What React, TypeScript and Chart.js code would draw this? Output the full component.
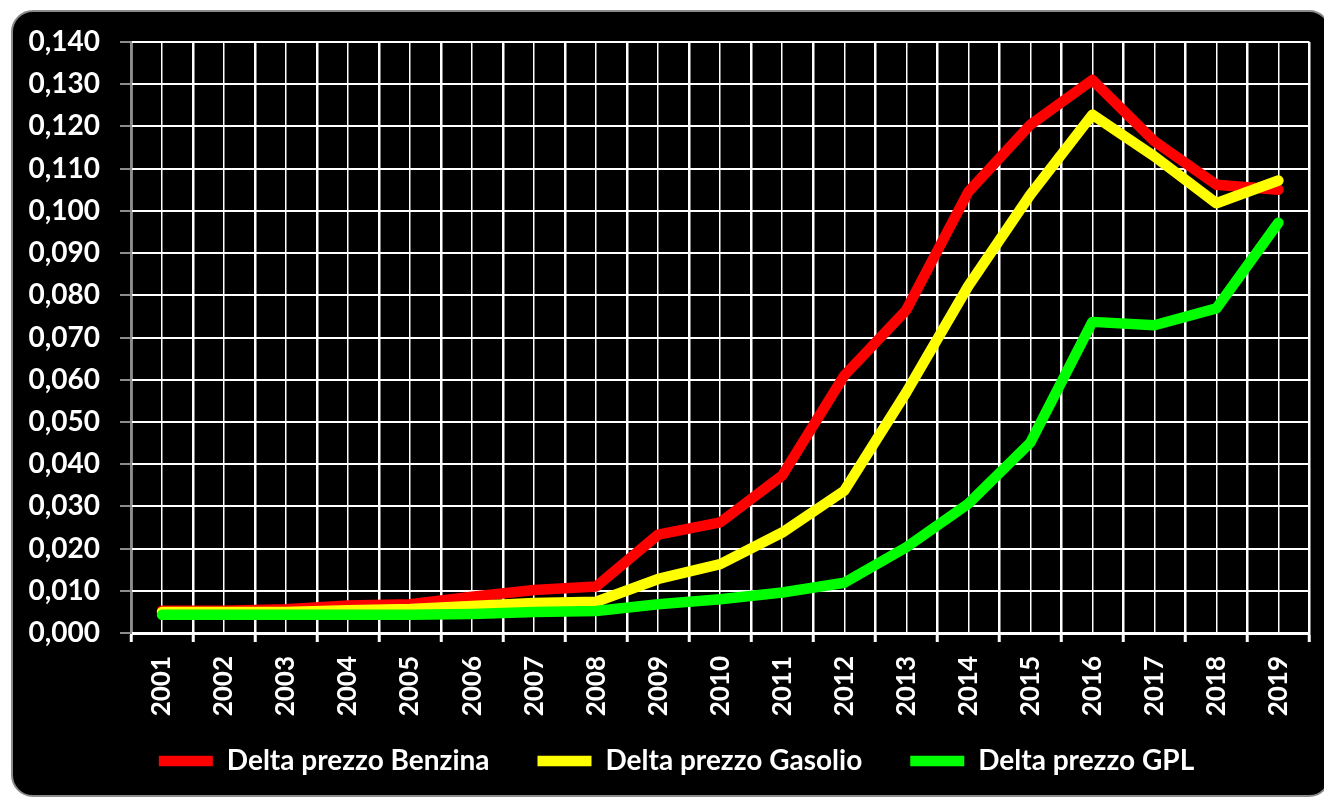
import React, { useEffect, useRef } from "react";
import { Chart, registerables } from "chart.js";

Chart.register(...registerables);

const years = ["2001","2002","2003","2004","2005","2006","2007","2008","2009","2010","2011","2012","2013","2014","2015","2016","2017","2018","2019"];
const benzina = [0.0053,0.0053,0.0056,0.0065,0.0068,0.0086,0.0102,0.0110,0.0233,0.0262,0.0373,0.0610,0.0765,0.1045,0.1204,0.1310,0.1165,0.1062,0.1050];
const gasolio = [0.0050,0.0050,0.0050,0.0054,0.0057,0.0064,0.0071,0.0074,0.0128,0.0163,0.0238,0.0337,0.0570,0.0822,0.1038,0.1228,0.1129,0.1018,0.1072];
const gpl = [0.0043,0.0043,0.0043,0.0043,0.0043,0.0045,0.0050,0.0052,0.0068,0.0080,0.0096,0.0119,0.0203,0.0306,0.0451,0.0737,0.0729,0.0769,0.0972];
const seriesNames = ["Delta prezzo Benzina", "Delta prezzo Gasolio", "Delta prezzo GPL"];
const yTickMin = 0;
const yTickMax = 0.14;
const yTickStep = 0.01;

// Widen the label clip areas so tick labels may overhang their (fixed-size) axis boxes.
const unclipLabels = {
  id: "unclipLabels",
  afterLayout(chart: any) {
    const x = chart.scales.x;
    const y = chart.scales.y;
    if (x) x.bottom = x.top + 110;
    if (y) y.left = 0;
  },
};

export default function App() {
  const ref = useRef<HTMLCanvasElement | null>(null);
  useEffect(() => {
    if (!ref.current) return;
    const font = "Lato";
    const mk = (label: string, data: number[], color: string, order: number) => ({
      label,
      data,
      borderColor: color,
      backgroundColor: color,
      borderWidth: 10.5,
      pointRadius: 0,
      tension: 0,
      borderCapStyle: "round" as const,
      borderJoinStyle: "round" as const,
      fill: false,
      order,
    });
    const chart = new Chart(ref.current, {
      type: "line",
      data: {
        labels: years,
        datasets: [
          mk(seriesNames[0], benzina, "#ff0000", 3),
          mk(seriesNames[1], gasolio, "#ffff00", 2),
          mk(seriesNames[2], gpl, "#00ff00", 1),
        ],
      },
      plugins: [unclipLabels],
      options: {
        animation: false,
        responsive: false,
        maintainAspectRatio: false,
        layout: { padding: { left: 40, right: 11, top: 42, bottom: 12 } },
        plugins: {
          tooltip: { enabled: false },
          legend: {
            position: "bottom",
            labels: {
              color: "#ffffff",
              font: { family: font, weight: "bold", size: 28 },
              usePointStyle: true,
              pointStyle: "line",
              pointStyleWidth: 54,
              padding: 48,
              sort: (a: any, b: any) => a.datasetIndex - b.datasetIndex,
            },
          },
        },
        scales: {
          x: {
            type: "category",
            offset: true,
            afterFit: (s: any) => { s.height = 66; },
            grid: {
              offset: true,
              color: "#ffffff",
              lineWidth: 2.5,
              tickLength: 9,
              tickColor: "#ffffff",
              tickWidth: 3,
            },
            border: { color: "#ffffff", width: 3 },
            ticks: {
              color: "#ffffff",
              font: { family: font, weight: "bold", size: 26 },
              minRotation: 90,
              maxRotation: 90,
              autoSkip: false,
              padding: 14,
            },
          },
          xc: {
            type: "category",
            position: "top",
            offset: true,
            afterFit: (s: any) => { s.height = 0; },
            grid: {
              offset: false,
              color: "#ffffff",
              lineWidth: 1.5,
              drawTicks: false,
            },
            border: { display: false },
            ticks: { display: false },
          },
          y: {
            min: yTickMin,
            max: yTickMax,
            afterFit: (s: any) => { s.width = 91; },
            grid: {
              color: "#ffffff",
              lineWidth: 2,
              tickLength: 11,
              tickColor: "#8c8c8c",
              tickWidth: 2,
            },
            border: { color: "#8c8c8c", width: 2 },
            ticks: {
              stepSize: yTickStep,
              color: "#ffffff",
              font: { family: font, weight: "bold", size: 28 },
              padding: 20,
              callback: (v: any) => Number(v).toFixed(3).replace(".", ","),
            },
          },
        },
      },
    });
    return () => chart.destroy();
  }, []);
  return (
    <div style={{ position: "fixed", left: 0, top: 0, width: 1324, height: 797, overflow: "hidden", background: "#ffffff" }}>
      <div style={{ position: "absolute", left: 11, top: 10, width: 1320, height: 787, background: "#000000", border: "2px solid #8a8a8a", borderRadius: 22, boxSizing: "border-box" }} />
      <canvas ref={ref} width={1324} height={797} style={{ position: "absolute", left: 0, top: 0, width: 1324, height: 797 }} />
    </div>
  );
}
